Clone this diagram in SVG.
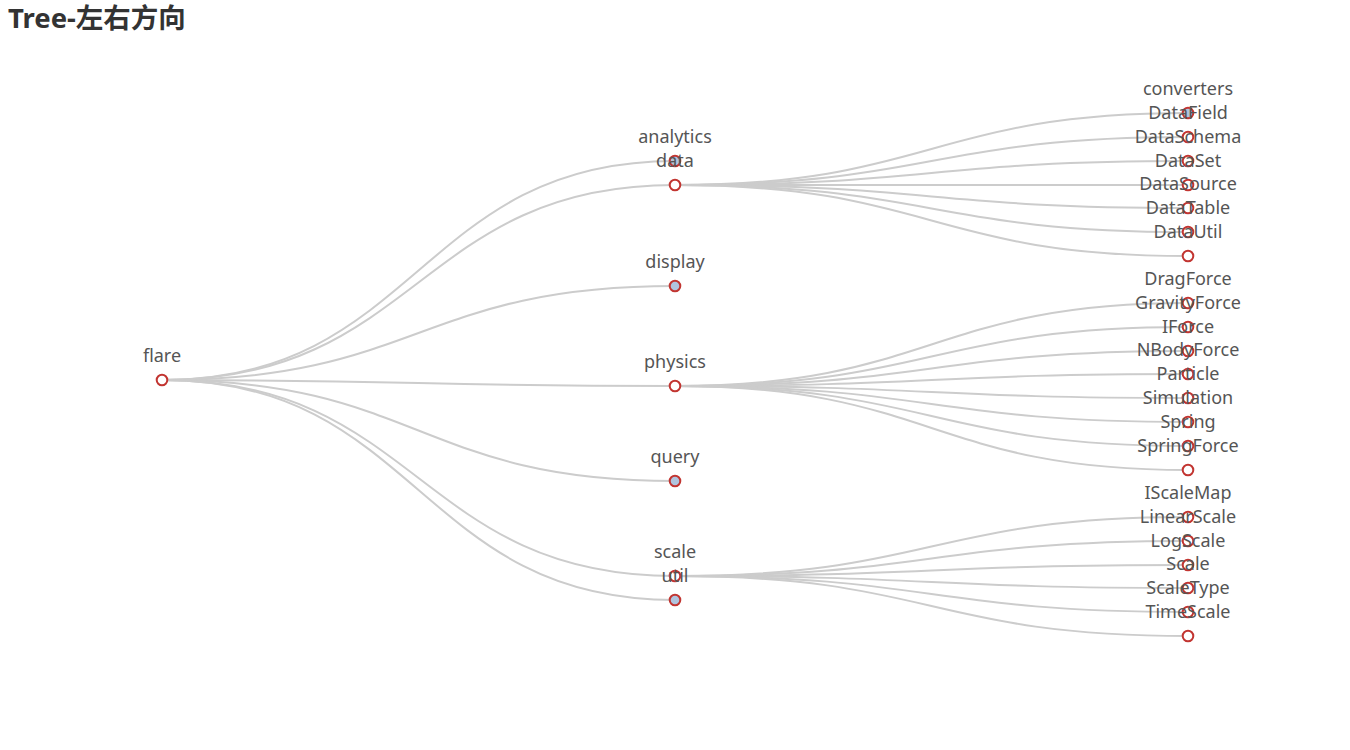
<svg xmlns="http://www.w3.org/2000/svg" width="1350" height="750" viewBox="0 0 1350 750">
<style>
.e{fill:none;stroke:#ccc;stroke-width:2}
.n{fill:#fff;stroke:#c23531;stroke-width:2}
.c{fill:#b0c4de;stroke:#c23531;stroke-width:2}
.t{font-family:"Noto Sans","Liberation Sans",sans-serif;font-size:18px;fill:#555;text-anchor:middle}
.title{font-family:"Noto Sans","Noto Sans CJK SC",sans-serif;font-size:27.5px;font-weight:bold;fill:#333}
</style>
<rect width="1350" height="750" fill="#fff"/>
<text class="title" x="8" y="28">Tree-左右方向</text>
<g id="connectors">
<path class="e" d="M162 380C418.5 380 418.5 161 675 161"/>
<path class="e" d="M162 380C418.5 380 418.5 185 675 185"/>
<path class="e" d="M162 380C418.5 380 418.5 286 675 286"/>
<path class="e" d="M162 380C418.5 380 418.5 386 675 386"/>
<path class="e" d="M162 380C418.5 380 418.5 481 675 481"/>
<path class="e" d="M162 380C418.5 380 418.5 576 675 576"/>
<path class="e" d="M162 380C418.5 380 418.5 600 675 600"/>
<path class="e" d="M675 185C931.5 185 931.5 113 1188 113"/>
<path class="e" d="M675 185C931.5 185 931.5 137 1188 137"/>
<path class="e" d="M675 185C931.5 185 931.5 161 1188 161"/>
<path class="e" d="M675 185C931.5 185 931.5 185 1188 185"/>
<path class="e" d="M675 185C931.5 185 931.5 208 1188 208"/>
<path class="e" d="M675 185C931.5 185 931.5 232 1188 232"/>
<path class="e" d="M675 185C931.5 185 931.5 256 1188 256"/>
<path class="e" d="M675 386C931.5 386 931.5 303 1188 303"/>
<path class="e" d="M675 386C931.5 386 931.5 327 1188 327"/>
<path class="e" d="M675 386C931.5 386 931.5 351 1188 351"/>
<path class="e" d="M675 386C931.5 386 931.5 374 1188 374"/>
<path class="e" d="M675 386C931.5 386 931.5 398 1188 398"/>
<path class="e" d="M675 386C931.5 386 931.5 422 1188 422"/>
<path class="e" d="M675 386C931.5 386 931.5 446 1188 446"/>
<path class="e" d="M675 386C931.5 386 931.5 470 1188 470"/>
<path class="e" d="M675 576C931.5 576 931.5 517 1188 517"/>
<path class="e" d="M675 576C931.5 576 931.5 541 1188 541"/>
<path class="e" d="M675 576C931.5 576 931.5 565 1188 565"/>
<path class="e" d="M675 576C931.5 576 931.5 588 1188 588"/>
<path class="e" d="M675 576C931.5 576 931.5 612 1188 612"/>
<path class="e" d="M675 576C931.5 576 931.5 636 1188 636"/>
</g>
<g id="flare"><circle class="n" cx="162" cy="380" r="5.3"/><text class="t" x="162" y="362">flare</text></g>
<g id="analytics"><circle class="c" cx="675" cy="161" r="5.3"/><text class="t" x="675" y="143">analytics</text></g>
<g id="data"><circle class="n" cx="675" cy="185" r="5.3"/><text class="t" x="675" y="167">data</text></g>
<g id="display"><circle class="c" cx="675" cy="286" r="5.3"/><text class="t" x="675" y="268">display</text></g>
<g id="physics"><circle class="n" cx="675" cy="386" r="5.3"/><text class="t" x="675" y="368">physics</text></g>
<g id="query"><circle class="c" cx="675" cy="481" r="5.3"/><text class="t" x="675" y="463">query</text></g>
<g id="scale"><circle class="n" cx="675" cy="576" r="5.3"/><text class="t" x="675" y="558">scale</text></g>
<g id="util"><circle class="c" cx="675" cy="600" r="5.3"/><text class="t" x="675" y="582">util</text></g>
<g id="converters"><circle class="c" cx="1188" cy="113" r="5.3"/><text class="t" x="1188" y="95">converters</text></g>
<g id="DataField"><circle class="n" cx="1188" cy="137" r="5.3"/><text class="t" x="1188" y="119">DataField</text></g>
<g id="DataSchema"><circle class="n" cx="1188" cy="161" r="5.3"/><text class="t" x="1188" y="143">DataSchema</text></g>
<g id="DataSet"><circle class="n" cx="1188" cy="185" r="5.3"/><text class="t" x="1188" y="167">DataSet</text></g>
<g id="DataSource"><circle class="n" cx="1188" cy="208" r="5.3"/><text class="t" x="1188" y="190">DataSource</text></g>
<g id="DataTable"><circle class="n" cx="1188" cy="232" r="5.3"/><text class="t" x="1188" y="214">DataTable</text></g>
<g id="DataUtil"><circle class="n" cx="1188" cy="256" r="5.3"/><text class="t" x="1188" y="238">DataUtil</text></g>
<g id="DragForce"><circle class="n" cx="1188" cy="303" r="5.3"/><text class="t" x="1188" y="285">DragForce</text></g>
<g id="GravityForce"><circle class="n" cx="1188" cy="327" r="5.3"/><text class="t" x="1188" y="309">GravityForce</text></g>
<g id="IForce"><circle class="n" cx="1188" cy="351" r="5.3"/><text class="t" x="1188" y="333">IForce</text></g>
<g id="NBodyForce"><circle class="n" cx="1188" cy="374" r="5.3"/><text class="t" x="1188" y="356">NBodyForce</text></g>
<g id="Particle"><circle class="n" cx="1188" cy="398" r="5.3"/><text class="t" x="1188" y="380">Particle</text></g>
<g id="Simulation"><circle class="n" cx="1188" cy="422" r="5.3"/><text class="t" x="1188" y="404">Simulation</text></g>
<g id="Spring"><circle class="n" cx="1188" cy="446" r="5.3"/><text class="t" x="1188" y="428">Spring</text></g>
<g id="SpringForce"><circle class="n" cx="1188" cy="470" r="5.3"/><text class="t" x="1188" y="452">SpringForce</text></g>
<g id="IScaleMap"><circle class="n" cx="1188" cy="517" r="5.3"/><text class="t" x="1188" y="499">IScaleMap</text></g>
<g id="LinearScale"><circle class="n" cx="1188" cy="541" r="5.3"/><text class="t" x="1188" y="523">LinearScale</text></g>
<g id="LogScale"><circle class="n" cx="1188" cy="565" r="5.3"/><text class="t" x="1188" y="547">LogScale</text></g>
<g id="Scale"><circle class="n" cx="1188" cy="588" r="5.3"/><text class="t" x="1188" y="570">Scale</text></g>
<g id="ScaleType"><circle class="n" cx="1188" cy="612" r="5.3"/><text class="t" x="1188" y="594">ScaleType</text></g>
<g id="TimeScale"><circle class="n" cx="1188" cy="636" r="5.3"/><text class="t" x="1188" y="618">TimeScale</text></g>
</svg>
